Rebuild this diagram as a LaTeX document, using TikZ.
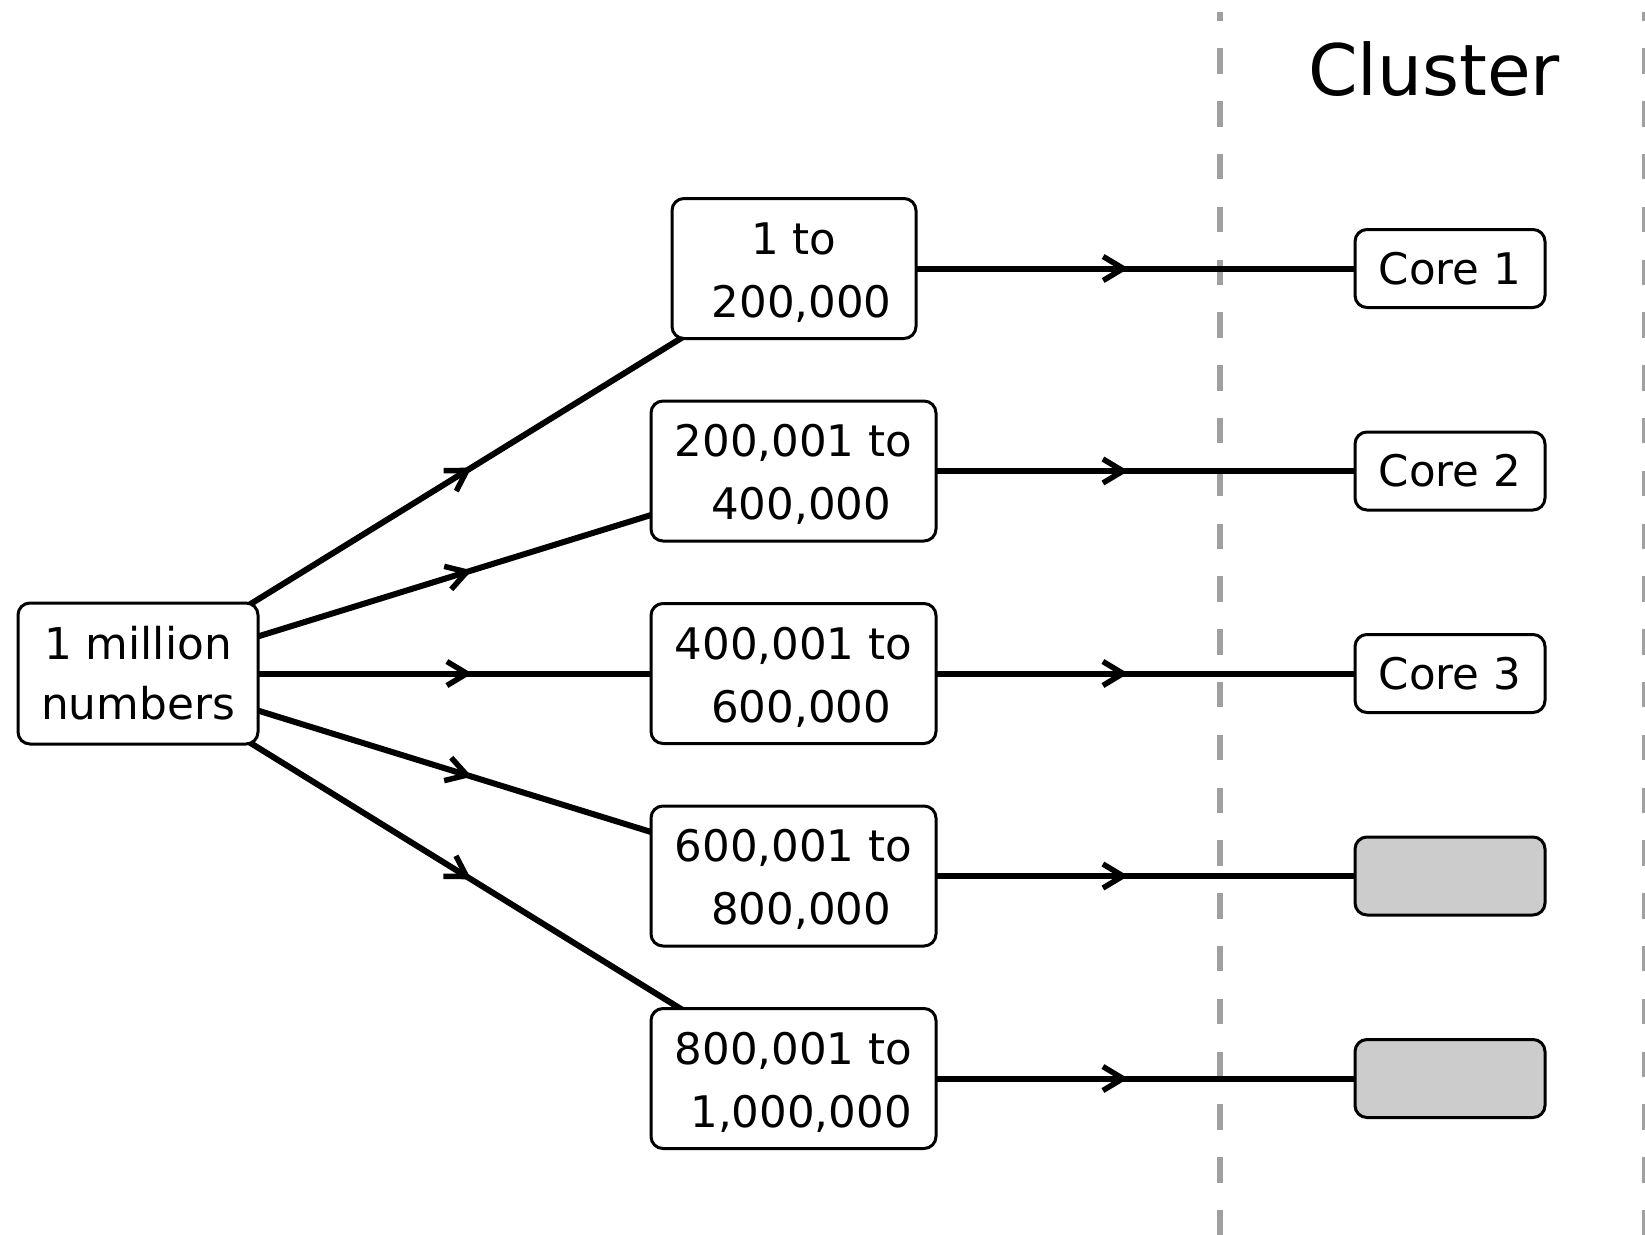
\documentclass[tikz,border=0pt]{standalone}
\usepackage{fontspec}
\setmainfont{DejaVu Sans}
\usetikzlibrary{arrows.meta,decorations.markings,backgrounds}
\definecolor{dashgray}{HTML}{A0A0A0}
\definecolor{corefill}{HTML}{CCCCCC}
\newcommand{\lift}{\rule{0pt}{40pt}}
\begin{document}
\begin{tikzpicture}[x=1pt,y=-1pt,
  box/.style={draw, line width=3pt, rounded corners=12pt, fill=white, align=center,
    inner sep=0pt, font=\fontsize{43.5}{63}\selectfont},
  srcbox/.style={box, minimum width=240pt, minimum height=141pt, font=\fontsize{43.8}{60}\selectfont},
  rangebox/.style={box, minimum width=285pt, minimum height=140pt},
  corebox/.style={box, minimum width=190pt, minimum height=78pt},
  idlebox/.style={corebox, fill=corefill},
  conn/.style={line width=6pt, postaction={decorate},
    decoration={markings, mark=at position 0.5 with {\arrow[xshift=6.5pt,line width=5.5pt]{Straight Barb[length=20pt,width=24pt]}}}},
  divider/.style={dashgray, line width=6.5pt, dash pattern=on 25.5pt off 27.3pt, dash phase=16.5pt}
]
\useasboundingbox (0,0) rectangle (1645,1234);

\node[srcbox] (src) at (138,673.5) {1 million\\numbers};
\node[box, minimum width=244pt, minimum height=140pt] (r1) at (794,268.5) {\lift1 to\\\hspace*{0.35em}200,000};
\node[rangebox] (r2) at (793.5,471) {\lift200,001 to\\\hspace*{0.35em}400,000};
\node[rangebox] (r3) at (793.5,673.5) {\lift400,001 to\\\hspace*{0.35em}600,000};
\node[rangebox] (r4) at (793.5,876) {\lift600,001 to\\\hspace*{0.35em}800,000};
\node[rangebox] (r5) at (793.5,1078.5) {\lift800,001 to\\\hspace*{0.35em}1,000,000};

\node[corebox] (c1) at (1450,268.5) {Core 1};
\node[corebox] (c2) at (1450,471) {Core 2};
\node[corebox] (c3) at (1450,673.5) {Core 3};
\node[idlebox] (c4) at (1450,876) {};
\node[idlebox] (c5) at (1450,1078.5) {};

\node[anchor=base, font=\fontsize{71}{80}\selectfont] (cluster) at (1434,95) {Cluster};

\coordinate (dtop) at (1220,12);
\coordinate (dbot) at (1220,1240);
\coordinate (etop) at (1645.5,12);
\coordinate (ebot) at (1645.5,1240);

\begin{scope}[on background layer]
  \draw[divider] (dtop) -- (dbot);
  \draw[divider] (etop) -- (ebot);
  \foreach \r in {1,...,5} {
    \draw[conn] (src.center) -- (r\r.center);
    \draw[conn] (r\r.center) -- (c\r.center);
  }
\end{scope}
\end{tikzpicture}
\end{document}
